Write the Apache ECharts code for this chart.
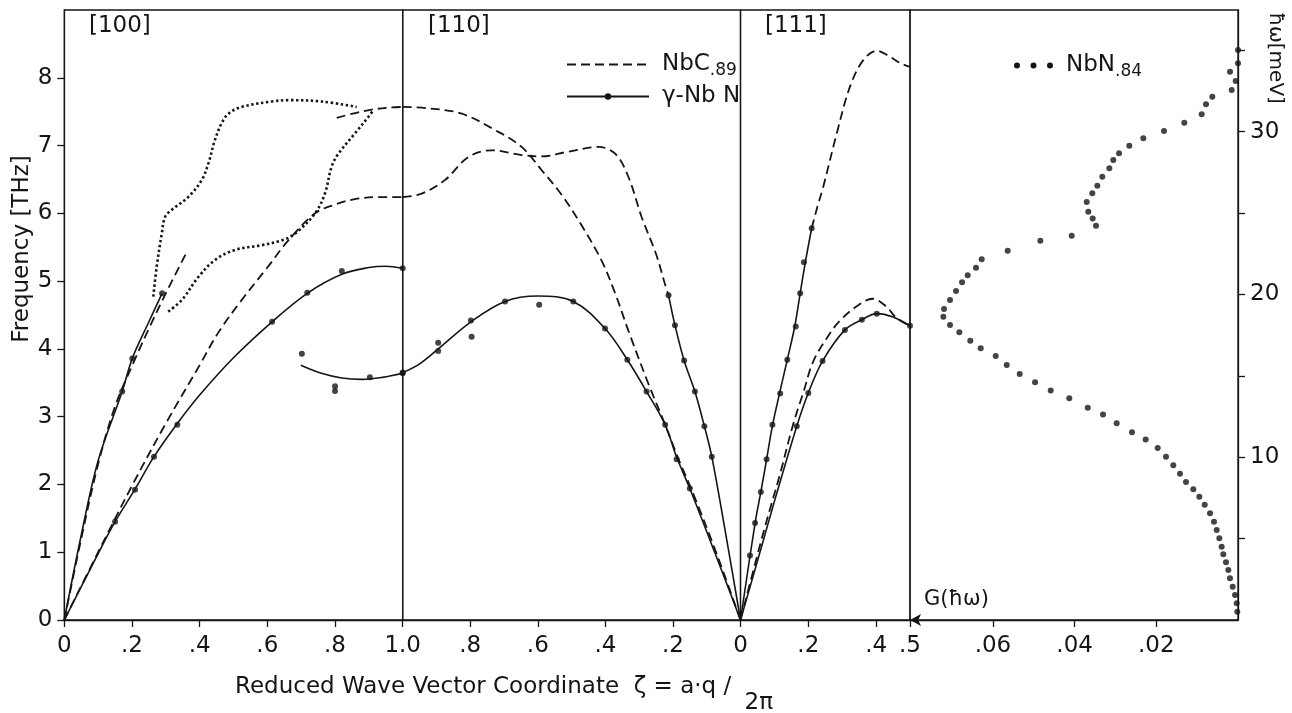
<!DOCTYPE html>
<html><head><meta charset="utf-8">
<script src="https://cdn.jsdelivr.net/npm/echarts@6/dist/echarts.min.js"></script>
<style>html,body{margin:0;padding:0;background:#fff}#c{width:1292px;height:713px}</style>
</head><body><div id="c"></div>
<script>
// ---------- tick values ----------
const ticksTHz = [0, 1, 2, 3, 4, 5, 6, 7, 8];
const ticksZeta100 = [0, 0.2, 0.4, 0.6, 0.8, 1.0];
const ticksZeta110 = [0.2, 0.4, 0.6, 0.8];
const ticksZeta111 = [0, 0.2, 0.4, 0.5];
const ticksDOS = [0.02, 0.04, 0.06];
const ticksMeV = [5, 10, 15, 20, 25, 30, 35];
const labelsMeV = [10, 20, 30];

// ---------- [100] panel : [zeta, THz] ----------
const nbc100LA = [[0,0],[0.05,1.2],[0.1,2.3],[0.15,3.15],[0.21,3.86],[0.25,4.3],[0.3,4.82],[0.36,5.41]];
const nbc100TA = [[0,0],[0.1,1.0],[0.2,1.98],[0.3,2.9],[0.4,3.76],[0.455,4.24],[0.524,4.72],[0.6,5.2],[0.662,5.6],[0.741,6.0],[0.8,6.13],[0.859,6.21],[0.93,6.24],[1.0,6.24]];
const nbc100Up = [[0.805,7.41],[0.86,7.48],[0.908,7.53],[0.96,7.56],[1.0,7.57]];
const nbn100Outer = [[0.263,4.77],[0.273,5.21],[0.288,5.7],[0.298,5.95],[0.317,6.05],[0.366,6.24],[0.406,6.49],[0.426,6.74],[0.445,7.08],[0.465,7.33],[0.485,7.47],[0.524,7.57],[0.613,7.65],[0.662,7.67],[0.761,7.65],[0.864,7.57]];
const nbn100Inner = [[0.307,4.55],[0.347,4.72],[0.396,5.06],[0.445,5.31],[0.504,5.46],[0.583,5.53],[0.642,5.6],[0.682,5.7],[0.741,6.0],[0.77,6.29],[0.79,6.69],[0.81,6.88],[0.859,7.18],[0.898,7.42],[0.913,7.52]];
const gam100LA = [[0,0],[0.05,1.25],[0.1,2.35],[0.171,3.37],[0.201,3.86],[0.25,4.4],[0.289,4.82]];
const gam100TA = [[0,0],[0.1,0.98],[0.15,1.45],[0.209,1.93],[0.265,2.41],[0.334,2.9],[0.4,3.32],[0.5,3.87],[0.614,4.4],[0.718,4.82],[0.82,5.1],[0.9,5.2],[0.95,5.22],[1.0,5.19]];
const gam100Low = [[0.699,3.76],[0.76,3.64],[0.82,3.57],[0.88,3.55],[0.94,3.58],[1.0,3.64]];
const gam100Pts = [[0.15,1.45],[0.209,1.92],[0.265,2.41],[0.334,2.88],[0.614,4.4],[0.718,4.83],[0.82,5.15],[1.0,5.19],[0.171,3.37],[0.201,3.86],[0.289,4.82],[0.702,3.93],[0.8,3.45],[0.8,3.38],[0.903,3.58],[1.0,3.64]];

// ---------- [110] panel : [zeta, THz] (zeta runs 1 -> 0) ----------
const nbc110Up = [[1.0,7.57],[0.924,7.55],[0.825,7.47],[0.727,7.23],[0.648,6.98],[0.589,6.64],[0.529,6.27],[0.47,5.82],[0.411,5.3],[0.371,4.82],[0.332,4.27],[0.273,3.49],[0.223,2.88],[0.184,2.38],[0.138,1.84],[0.07,0.97],[0,0]];
const nbc110Wavy = [[1.0,6.24],[0.944,6.29],[0.875,6.49],[0.806,6.83],[0.737,6.93],[0.648,6.86],[0.589,6.84],[0.51,6.91],[0.421,6.98],[0.371,6.88],[0.332,6.54],[0.293,5.95],[0.25,5.4],[0.225,4.98],[0.213,4.79]];
const gam110Steep = [[0.213,4.79],[0.194,4.35],[0.167,3.83],[0.135,3.37],[0.107,2.86],[0.085,2.41],[0.042,1.22],[0,0]];
const gam110TA = [[1.0,3.65],[0.95,3.78],[0.895,4.0],[0.798,4.4],[0.697,4.7],[0.6,4.78],[0.495,4.7],[0.401,4.3],[0.335,3.84],[0.278,3.37],[0.223,2.88],[0.189,2.4],[0.15,1.94],[0.075,0.98],[0,0]];
const gam110Pts = [[0.213,4.79],[0.194,4.35],[0.167,3.83],[0.135,3.37],[0.107,2.86],[0.085,2.41],[1.0,3.65],[0.895,3.97],[0.895,4.09],[0.798,4.42],[0.796,4.18],[0.697,4.7],[0.596,4.65],[0.495,4.7],[0.401,4.3],[0.335,3.84],[0.278,3.37],[0.223,2.88],[0.189,2.37],[0.15,1.94]];

// ---------- [111] panel : [zeta, THz] ----------
const nbc111Up = [[0.21,5.78],[0.227,6.1],[0.244,6.39],[0.284,7.18],[0.323,7.87],[0.362,8.26],[0.402,8.4],[0.441,8.31],[0.47,8.22],[0.5,8.16]];
const nbc111Low = [[0,0],[0.067,1.28],[0.117,2.16],[0.156,2.9],[0.185,3.35],[0.215,3.82],[0.264,4.23],[0.294,4.42],[0.343,4.63],[0.39,4.74],[0.431,4.62],[0.461,4.45],[0.5,4.34]];
const gam111Steep = [[0,0],[0.043,1.43],[0.06,1.89],[0.077,2.37],[0.094,2.86],[0.115,3.34],[0.138,3.84],[0.16,4.33],[0.176,4.82],[0.192,5.3],[0.21,5.78]];
const gam111Low = [[0,0],[0.05,0.87],[0.1,1.75],[0.166,2.86],[0.2,3.35],[0.242,3.82],[0.308,4.28],[0.358,4.43],[0.402,4.52],[0.45,4.47],[0.5,4.34]];
const gam111Pts = [[0.21,5.78],[0.187,5.28],[0.176,4.82],[0.163,4.33],[0.138,3.84],[0.117,3.34],[0.094,2.88],[0.077,2.37],[0.06,1.89],[0.043,1.43],[0.028,0.95],[0.166,2.86],[0.2,3.35],[0.242,3.82],[0.308,4.28],[0.358,4.43],[0.402,4.52],[0.5,4.34]];

// ---------- density of states NbN.84 : [G, meV] ----------
const dosG = [0,0,0.00196,0.00057,0.00155,0.00629,0.00783,0.00889,0.01315,0.01812,0.02318,0.02661,0.02913,0.03053,0.0315,0.03322,0.03444,0.03567,0.03704,0.03665,0.03557,0.03476,0.04071,0.0484,0.05638,0.06275,0.06414,0.06617,0.06756,0.06903,0.0705,0.07197,0.07214,0.0705,0.06822,0.06553,0.06299,0.05932,0.05662,0.05344,0.04969,0.04585,0.0413,0.03679,0.03305,0.0297,0.02595,0.0226,0.01966,0.01763,0.01584,0.0142,0.01273,0.01094,0.00947,0.00815,0.00685,0.00588,0.00522,0.00457,0.004,0.0036,0.00294,0.00237,0.00196,0.0013,0.00073,0.00032,0.00017];
const dosE = [35.01,34.2,33.68,33.11,32.56,32.14,31.68,31.06,30.55,30.04,29.59,29.13,28.67,28.26,27.75,27.23,26.68,26.21,25.68,25.08,24.67,24.22,23.61,23.3,22.68,22.16,21.64,21.17,20.74,20.21,19.66,19.1,18.63,18.12,17.67,17.16,16.69,16.22,15.66,15.11,14.6,14.09,13.62,13.04,12.63,12.08,11.53,11.08,10.57,10.03,9.5,8.99,8.48,8.03,7.57,7.08,6.55,6.04,5.53,5.02,4.5,4.04,3.54,3.07,2.56,2.05,1.54,1.03,0.51];

// ---------- styling ----------
const FONT = 'DejaVu Sans';
const INK = '#151515';
const FS = 23;
const fmtZeta = v => (v === 0 ? '0' : (Math.abs(v - 1) < 1e-9 ? '1.0' : v.toFixed(1).replace(/^0/, '')));
const fmtDOS = v => v.toFixed(2).replace(/^0/, '');

const lineCommon = { color: INK, width: 1.3 };
function xAx(gridIndex, min, max, inverse, ticks, labels, fmt, extra) {
  return Object.assign({
    type: 'value', gridIndex, min, max, inverse,
    splitLine: { show: false },
    axisLine: { show: true, onZero: false, lineStyle: lineCommon },
    axisTick: { show: true, inside: false, length: 7, lineStyle: lineCommon, customValues: ticks },
    axisLabel: { show: true, color: INK, fontFamily: FONT, fontSize: FS, margin: 15, customValues: labels, formatter: fmt }
  }, extra || {});
}
function yAx(gridIndex, min, max, show, position, ticks, labels, fmt) {
  return {
    type: 'value', gridIndex, min, max, show, position,
    splitLine: { show: false },
    axisLine: { show: true, onZero: false, lineStyle: lineCommon },
    axisTick: { show: true, inside: false, length: 7, lineStyle: lineCommon, customValues: ticks },
    axisLabel: { show: true, color: INK, fontFamily: FONT, fontSize: FS, margin: 12, customValues: labels, formatter: fmt }
  };
}

const DASH = { color: INK, width: 1.8, type: [9, 5] };
const SOLID = { color: INK, width: 1.6, type: 'solid' };
const DOT = { color: INK, width: 2.6, type: [2.4, 2.6], cap: 'butt' };

function line(name, data, g, style, withSymbol) {
  return {
    type: 'line', name, data, xAxisIndex: g, yAxisIndex: g,
    smooth: 0.35, symbol: withSymbol ? 'circle' : 'none', showSymbol: false, symbolSize: 6,
    lineStyle: style, itemStyle: { color: INK }, silent: true, z: 3
  };
}
function pts(name, data, g, size) {
  return {
    type: 'scatter', name, data, xAxisIndex: g, yAxisIndex: g,
    symbol: 'circle', symbolSize: size, clip: false,
    itemStyle: { color: INK }, silent: true, z: 4
  };
}

const GAM = 'γ-Nb N', NBC = 'NbC.89', NBN = 'NbN.84';

const series = [
  line(GAM, gam100TA, 0, SOLID, true),
  line(NBC, nbc100LA, 0, DASH),
  line(NBC, nbc100TA, 0, DASH),
  line(NBC, nbc100Up, 0, DASH),
  line(NBN, nbn100Outer, 0, DOT),
  line(NBN, nbn100Inner, 0, DOT),
  line(GAM, gam100LA, 0, SOLID, true),
  line(GAM, gam100Low, 0, SOLID, true),
  line(NBC, nbc110Up, 1, DASH),
  line(NBC, nbc110Wavy, 1, DASH),
  line(GAM, gam110Steep, 1, SOLID, true),
  line(GAM, gam110TA, 1, SOLID, true),
  line(NBC, nbc111Up, 2, DASH),
  line(NBC, nbc111Low, 2, DASH),
  line(GAM, gam111Steep, 2, SOLID, true),
  line(GAM, gam111Low, 2, SOLID, true),
  pts(GAM, gam100Pts, 0, 6),
  pts(GAM, gam110Pts, 1, 6),
  pts(GAM, gam111Pts, 2, 6),
  pts(NBN, dosG.map((g, i) => [g, dosE[i]]), 3, 6)
];

const gridBase = { top: 10, height: 610, show: true, borderColor: INK, borderWidth: 1.3, backgroundColor: 'transparent', containLabel: false };
const threeDots = 'path://M0,3a3,3 0 1,0 6,0a3,3 0 1,0 -6,0Z M16.5,3a3,3 0 1,0 6,0a3,3 0 1,0 -6,0Z M33,3a3,3 0 1,0 6,0a3,3 0 1,0 -6,0Z';
const richLegend = {
  n: { fontFamily: FONT, fontSize: FS, color: INK, padding: [0, 0, 0, 8] },
  s: { fontFamily: FONT, fontSize: 17, color: INK, padding: [12, 0, 0, 0] }
};

const option = {
  animation: false,
  backgroundColor: '#ffffff',
  textStyle: { fontFamily: FONT, color: INK },
  grid: [
    Object.assign({ left: 64.3, width: 338.4 }, gridBase),
    Object.assign({ left: 402.7, width: 337.8 }, gridBase),
    Object.assign({ left: 740.5, width: 169.5 }, gridBase),
    Object.assign({ left: 910, width: 328 }, gridBase)
  ],
  xAxis: [
    xAx(0, 0, 1, false, ticksZeta100, ticksZeta100, fmtZeta),
    xAx(1, 0, 1, true, ticksZeta110, ticksZeta110, fmtZeta),
    xAx(2, 0, 0.5, false, ticksZeta111, ticksZeta111, fmtZeta),
    xAx(3, 0, 0.0803, true, ticksDOS, ticksDOS, fmtDOS, {
      axisLine: { show: true, onZero: false, lineStyle: lineCommon, symbol: ['arrow', 'none'], symbolSize: [9, 11] }
    })
  ],
  yAxis: [
    yAx(0, 0, 9, true, 'left', ticksTHz, ticksTHz, v => String(v)),
    yAx(1, 0, 9, false, 'left', ticksTHz, ticksTHz, v => String(v)),
    yAx(2, 0, 9, false, 'left', ticksTHz, ticksTHz, v => String(v)),
    yAx(3, 0, 37.47, true, 'right', ticksMeV, labelsMeV, v => String(v))
  ],
  title: [
    { text: '[100]', left: 89, top: 15, padding: 0, textStyle: { fontFamily: FONT, fontSize: FS, fontWeight: 'normal', color: INK } },
    { text: '[110]', left: 428, top: 15, padding: 0, textStyle: { fontFamily: FONT, fontSize: FS, fontWeight: 'normal', color: INK } },
    { text: '[111]', left: 765, top: 15, padding: 0, textStyle: { fontFamily: FONT, fontSize: FS, fontWeight: 'normal', color: INK } }
  ],
  legend: [
    {
      orient: 'vertical', left: 561, top: 48, itemWidth: 82, itemHeight: 8, itemGap: 6,
      selectedMode: false,
      data: [{ name: NBC, itemStyle: { opacity: 0 } }, { name: GAM }],
      formatter: n => (n === NBC ? '{n|NbC}{s|.89}' : '{n|' + n + '}'),
      textStyle: { fontFamily: FONT, fontSize: FS, color: INK, rich: richLegend }
    },
    {
      left: 1009, top: 49, itemWidth: 39, itemHeight: 6, selectedMode: false,
      data: [{ name: NBN, icon: threeDots }],
      formatter: () => '{n|NbN}{s|.84}',
      textStyle: { fontFamily: FONT, fontSize: FS, color: INK, rich: richLegend }
    }
  ],
  graphic: [
    { type: 'text', x: 22, y: 249, rotation: Math.PI / 2,
      style: { text: 'Frequency [THz]', fontFamily: FONT, fontSize: FS, fill: INK, align: 'center', verticalAlign: 'middle' } },
    { type: 'text', x: 1275, y: 58, rotation: -Math.PI / 2,
      style: { text: 'ħω[meV]', fontFamily: FONT, fontSize: 20, fill: INK, align: 'center', verticalAlign: 'middle' } },
    { type: 'text', x: 924, y: 589,
      style: { text: 'G(ħω)', fontFamily: FONT, fontSize: 21, fill: INK } },
    { type: 'text', x: 235, y: 676,
      style: {
        text: '{a|Reduced Wave Vector Coordinate  ζ = a·q / }{s|2π}',
        rich: {
          a: { fontFamily: FONT, fontSize: FS, fill: INK, color: INK, verticalAlign: 'top', lineHeight: 24 },
          s: { fontFamily: FONT, fontSize: FS, fill: INK, color: INK, padding: [16, 0, 0, 6] }
        }
      } }
  ],
  series
};

const chart = echarts.init(document.getElementById('c'), null, { renderer: 'canvas' });
chart.setOption(option);
</script></body></html>
